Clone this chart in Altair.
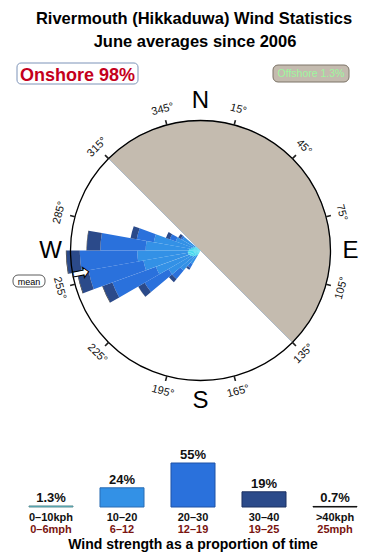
import altair as alt
import pandas as pd

# ---- wind rose: 10-degree direction bins (centre bearing) and % of time per speed band
directions = [215, 225, 235, 245, 255, 265, 275, 285, 295, 305]
band_names = ["0-10", "10-20", "20-30", "30-40", ">40"]
pct_0_10 = [0.04, 0.08, 0.13, 0.18, 0.22, 0.22, 0.18, 0.12, 0.08, 0.05]
pct_10_20 = [0.30, 0.87, 1.75, 2.93, 4.42, 5.31, 3.97, 2.99, 0.88, 0.56]
pct_20_30 = [0.22, 0.96, 3.88, 9.06, 13.21, 14.60, 9.71, 2.68, 0.52, 0.11]
pct_30_40 = [0.13, 0.46, 1.38, 2.82, 3.70, 4.71, 3.99, 1.19, 0.39, 0.20]
pct_40_up = [0.00, 0.00, 0.04, 0.12, 0.20, 0.22, 0.12, 0.00, 0.00, 0.00]
band_fill = ["#45d8ee", "#3391e6", "#2a71dc", "#2b4a8a", "#151515"]
band_stroke = ["#5f8f94", "#2a6cb4", "#1f52a6", "#1d3161", "#111111"]

# offshore sector (bearing range, clockwise through north)
offshore_from = -45
offshore_to = 135

# compass annotations
degree_ticks = [15, 45, 75, 105, 135, 165, 195, 225, 255, 285, 315, 345]
cardinal_bearings = [0, 90, 180, 270]
cardinal_names = ["N", "E", "S", "W"]
mean_bearing = 259

# ---- speed distribution
speed_pct = [1.3, 24, 55, 19, 0.7]
speed_text = ["1.3%", "24%", "55%", "19%", "0.7%"]
kph_text = ["0\u201310kph", "10\u201320", "20\u201330", "30\u201340", ">40kph"]
mph_text = ["0\u20136mph", "6\u201312", "12\u201319", "19\u201325", "25mph"]

title_lines = ["Rivermouth (Hikkaduwa) Wind Statistics", "June averages since 2006"]
onshore_label = "Onshore 98%"
offshore_label = "Offshore 1.3%"
speed_title = "Wind strength as a proportion of time"

FONT = "Liberation Sans"
CX, CY, R = 200.5, 250.5, 130

# stacked wedge table
rows = []
series = [pct_0_10, pct_10_20, pct_20_30, pct_30_40, pct_40_up]
for i, d in enumerate(directions):
    cum = 0.0
    for b, vals in zip(band_names, series):
        v = vals[i]
        if v > 0:
            rows.append({"dir": d, "band": b, "t0": d - 5, "t1": d + 5,
                         "r0": cum, "r1": cum + v})
        cum += v
wedges_df = pd.DataFrame(rows)

ticks_df = pd.DataFrame({
    "deg": degree_ticks,
    "t0": [d - 0.35 for d in degree_ticks],
    "t1": [d + 0.35 for d in degree_ticks],
    "lab": [f"{d}\u00b0" for d in degree_ticks],
    "ang": [d if (d >= 270 or d <= 90) else (d + 180) % 360 for d in degree_ticks],
})
cardinal_df = pd.DataFrame({"deg": cardinal_bearings, "lab": cardinal_names})
sector_df = pd.DataFrame({"t0": [offshore_from], "t1": [offshore_to]})
ring_df = pd.DataFrame({"t0": [0], "t1": [360]})
mean_df = pd.DataFrame({"deg": [mean_bearing], "ang": [(mean_bearing + 90) % 360]})
speed_df = pd.DataFrame({"band": band_names, "pct": speed_pct, "lab": speed_text,
                         "kph": kph_text, "mph": mph_text})
one = pd.DataFrame({"k": [0]})

theta_scale = alt.Scale(domain=[0, 360], range=[0, 6.283185307179586], nice=False, zero=False)
radius_scale = alt.Scale(type="sqrt", domain=[0, 25.2], range=[0, 135], nice=False)
cx, cy = alt.value(CX), alt.value(CY)

sector = alt.Chart(sector_df).mark_arc(color="#c4bbaf", stroke="#aebbc8", strokeWidth=1).encode(
    theta=alt.Theta("t0:Q", scale=theta_scale, stack=False),
    theta2="t1:Q", radius=alt.value(R), x=cx, y=cy)

wedges = alt.Chart(wedges_df).mark_arc().encode(
    theta=alt.Theta("t0:Q", scale=theta_scale, stack=False),
    theta2="t1:Q",
    radius=alt.Radius("r1:Q", scale=radius_scale, stack=False),
    radius2="r0:Q",
    color=alt.Color("band:N", scale=alt.Scale(domain=band_names, range=band_fill), legend=None),
    x=cx, y=cy)

ring = alt.Chart(ring_df).mark_arc(fillOpacity=0, stroke="black", strokeWidth=1.3).encode(
    theta=alt.Theta("t0:Q", scale=theta_scale, stack=False),
    theta2="t1:Q", radius=alt.value(R), x=cx, y=cy)

ticks = alt.Chart(ticks_df).mark_arc(color="#222").encode(
    theta=alt.Theta("t0:Q", scale=theta_scale, stack=False),
    theta2="t1:Q", radius=alt.value(R + 5), radius2=alt.value(R), x=cx, y=cy)

tick_labels = alt.Chart(ticks_df).mark_text(font=FONT, fontSize=11, color="#111",
                                            baseline="middle", align="center").encode(
    theta=alt.Theta("deg:Q", scale=theta_scale, stack=False),
    radius=alt.value(146), angle=alt.Angle("ang:Q", scale=None),
    text="lab:N", x=cx, y=cy)

cardinals = alt.Chart(cardinal_df).mark_text(font=FONT, fontSize=24, color="black",
                                             baseline="middle", align="center").encode(
    theta=alt.Theta("deg:Q", scale=theta_scale, stack=False),
    radius=alt.value(150), text="lab:N", x=cx, y=cy)

mean_arrow = alt.Chart(mean_df).mark_text(font="DejaVu Sans", fontSize=21, fill="white",
                                          stroke="black", strokeWidth=1,
                                          baseline="middle", align="center").encode(
    theta=alt.Theta("deg:Q", scale=theta_scale, stack=False),
    radius=alt.value(122), angle=alt.Angle("ang:Q", scale=None),
    text=alt.value("\u27a1"), x=cx, y=cy)

mean_box = alt.Chart(one).mark_rect(fill="white", stroke="#333", strokeWidth=0.8,
                                    cornerRadius=5).encode(
    x=alt.value(13), x2=alt.value(45), y=alt.value(275), y2=alt.value(287))
mean_text = alt.Chart(one).mark_text(font=FONT, fontSize=9, color="black").encode(
    x=alt.value(29), y=alt.value(281.5), text=alt.value("mean"))

# speed histogram
x_band = alt.X("band:N", scale=alt.Scale(domain=band_names, range=[15.5, 370.5],
                                         paddingInner=0.38, paddingOuter=0.19), axis=None)
y_pct = alt.Y("pct:Q", scale=alt.Scale(domain=[0, 55], range=[507, 463], nice=False), axis=None)

bars = alt.Chart(speed_df).mark_bar(strokeWidth=1).encode(
    x=x_band, y=y_pct,
    color=alt.Color("band:N", scale=alt.Scale(domain=band_names, range=band_fill), legend=None),
    stroke=alt.Stroke("band:N", scale=alt.Scale(domain=band_names, range=band_stroke), legend=None))

bar_vals = alt.Chart(speed_df).mark_text(font=FONT, fontSize=13, fontWeight="bold",
                                         color="#111", baseline="alphabetic", dy=-4).encode(
    x=x_band, y=y_pct, text="lab:N")

kph = alt.Chart(speed_df).mark_text(font=FONT, fontSize=11, fontWeight="bold",
                                    color="#111", baseline="alphabetic").encode(
    x=x_band, y=alt.value(521), text="kph:N")
mph = alt.Chart(speed_df).mark_text(font=FONT, fontSize=11, fontWeight="bold",
                                    color="#7a1410", baseline="alphabetic").encode(
    x=x_band, y=alt.value(533), text="mph:N")

speed_caption = alt.Chart(one).mark_text(font=FONT, fontSize=14, fontWeight="bold",
                                         color="black", baseline="alphabetic").encode(
    x=alt.value(193), y=alt.value(549), text=alt.value(speed_title))

# headings and onshore/offshore badges
title1 = alt.Chart(one).mark_text(font=FONT, fontSize=16.5, fontWeight="bold", color="black",
                                  baseline="alphabetic").encode(
    x=alt.value(194), y=alt.value(24), text=alt.value(title_lines[0]))
title2 = alt.Chart(one).mark_text(font=FONT, fontSize=16.5, fontWeight="bold", color="black",
                                  baseline="alphabetic").encode(
    x=alt.value(195), y=alt.value(47), text=alt.value(title_lines[1]))

on_box = alt.Chart(one).mark_rect(fill="white", stroke="#7d93b8", strokeWidth=1,
                                  cornerRadius=4).encode(
    x=alt.value(17), x2=alt.value(138), y=alt.value(63), y2=alt.value(84))
on_text = alt.Chart(one).mark_text(font=FONT, fontSize=18, fontWeight="bold",
                                   color="#c4001c", baseline="alphabetic").encode(
    x=alt.value(77.5), y=alt.value(81), text=alt.value(onshore_label))

off_box = alt.Chart(one).mark_rect(fill="#c4bbaf", stroke="#7d7468", strokeWidth=1,
                                   cornerRadius=5).encode(
    x=alt.value(273), x2=alt.value(349), y=alt.value(65), y2=alt.value(82))
off_text = alt.Chart(one).mark_text(font=FONT, fontSize=10.5, color="#9ef79e",
                                    baseline="alphabetic").encode(
    x=alt.value(311), y=alt.value(77), text=alt.value(offshore_label))

chart = alt.layer(
    sector, wedges, ring, ticks, tick_labels, cardinals, mean_arrow, mean_box, mean_text,
    bars, bar_vals, kph, mph, speed_caption,
    title1, title2, on_box, on_text, off_box, off_text,
).properties(
    width=390, height=560, padding=0,
    autosize=alt.AutoSizeParams(type="none"),
    background="white",
).configure_view(strokeWidth=0)

chart.save("out.html", embed_options={"renderer": "svg", "actions": False})
